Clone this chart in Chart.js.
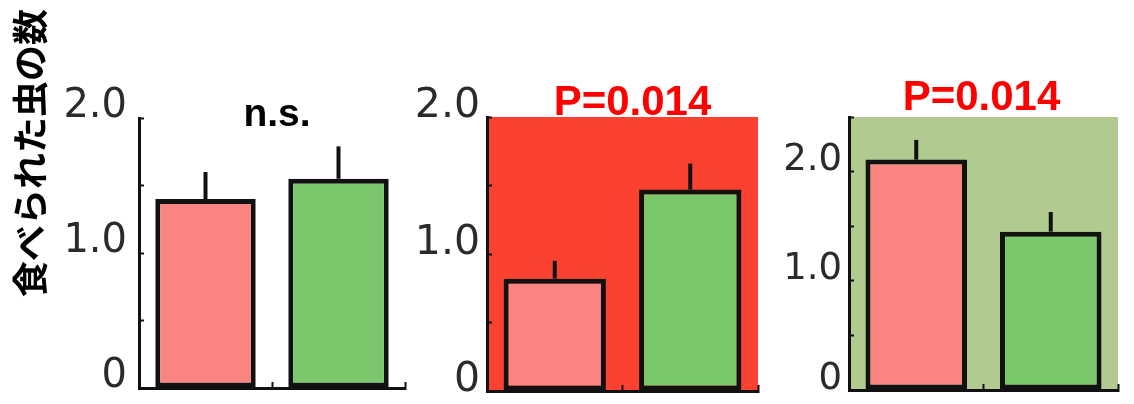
<!DOCTYPE html>
<html lang="ja">
<head>
<meta charset="UTF-8">
<title>食べられた虫の数</title>
<script src="https://cdn.jsdelivr.net/npm/chart.js@4.4.1/dist/chart.umd.min.js"></script>
<style>
  body { margin: 0; background: #fff; width: 1134px; height: 404px; position: relative; overflow: hidden; }
  canvas { position: absolute; top: 0; }
</style>
</head>
<body>
<canvas id="c1" width="410" height="404" style="left:0"></canvas>
<canvas id="c2" width="355" height="404" style="left:410px"></canvas>
<canvas id="c3" width="369" height="404" style="left:765px"></canvas>
<script>
// data
const categories = ['赤', '緑'];
const meansA = [1.40, 1.55];
const errorsA = [0.20, 0.24];
const meansB = [0.82, 1.47];
const errorsB = [0.13, 0.19];
const meansC = [2.11, 1.45];
const errorsC = [0.18, 0.18];
const tickLabels = { 0: '0', 1: '1.0', 2: '2.0' };
const notes = ['n.s.', 'P=0.014', 'P=0.014'];
const yTitle = '食べられた虫の数';

const barColors = ['#fa8480', '#7bc76b'];
const ink = '#111';

// fill the plot area (panel 2 and 3 have a coloured background)
const areaFill = {
  id: 'areaFill',
  beforeDraw(chart, args, opts) {
    if (!opts.color) return;
    const { ctx, chartArea: a } = chart;
    ctx.save();
    ctx.fillStyle = opts.color;
    ctx.fillRect(a.left, a.top, a.right - a.left, a.bottom - a.top);
    ctx.restore();
  }
};

// one-sided error bars, from the bar top upward
const errorBars = {
  id: 'errorBars',
  afterDatasetsDraw(chart, args, opts) {
    const { ctx } = chart;
    const y = chart.scales.y;
    const values = chart.data.datasets[0].data;
    ctx.save();
    ctx.strokeStyle = ink;
    ctx.lineWidth = 4;
    chart.getDatasetMeta(0).data.forEach((bar, i) => {
      ctx.beginPath();
      ctx.moveTo(bar.x, y.getPixelForValue(values[i]));
      ctx.lineTo(bar.x, y.getPixelForValue(values[i] + opts.errors[i]));
      ctx.stroke();
    });
    ctx.restore();
  }
};

// significance text over each panel
const note = {
  id: 'note',
  afterDraw(chart, args, opts) {
    const { ctx, chartArea: a } = chart;
    ctx.save();
    ctx.font = 'bold ' + opts.size + 'px "Liberation Sans", Arial, sans-serif';
    ctx.fillStyle = opts.color;
    ctx.textAlign = 'center';
    ctx.textBaseline = 'alphabetic';
    ctx.fillText(opts.text, (a.left + a.right) / 2 + opts.dx, a.top + opts.dy);
    ctx.restore();
  }
};

// y title, only on the first panel
const sideTitle = {
  id: 'sideTitle',
  afterDraw(chart, args, opts) {
    if (!opts.text) return;
    const { ctx } = chart;
    ctx.save();
    ctx.translate(opts.x, opts.y);
    ctx.rotate(-Math.PI / 2);
    ctx.font = 'bold 36px "Noto Sans CJK JP", sans-serif';
    ctx.fillStyle = '#000';
    ctx.textAlign = 'center';
    ctx.textBaseline = 'middle';
    ctx.fillText(opts.text, 0, 0);
    ctx.restore();
  }
};

function makePanel(id, p) {
  return new Chart(document.getElementById(id), {
    type: 'bar',
    data: {
      labels: categories,
      datasets: [{
        data: p.means,
        backgroundColor: barColors,
        borderColor: ink,
        borderWidth: 5,
        borderSkipped: false,
        categoryPercentage: 1,
        barPercentage: 0.755
      }]
    },
    options: {
      responsive: false,
      animation: false,
      layout: { padding: { top: p.top, right: p.right, bottom: p.bottom, left: 0 } },
      scales: {
        x: {
          ticks: { display: false },
          grid: { drawOnChartArea: false, offset: true, tickLength: -6, color: ink, tickWidth: 2 },
          border: { color: ink, width: 3 },
          afterFit: s => { s.height = 0; s.paddingLeft = 0; s.paddingRight = 0; }
        },
        y: {
          min: 0,
          max: p.max,
          ticks: {
            stepSize: 0.5,
            autoSkip: false,
            callback: v => tickLabels[v] ?? '',
            color: '#2b2b2b',
            font: { family: '"DejaVu Sans", sans-serif', size: p.fontSize },
            padding: p.labelPad,
            labelOffset: -11
          },
          grid: { drawOnChartArea: false, tickLength: -5, color: ink, tickWidth: 2 },
          border: { color: ink, width: 3 },
          afterFit: s => { s.width = p.axisWidth; s.paddingTop = 0; s.paddingBottom = 0; }
        }
      },
      plugins: {
        legend: { display: false },
        tooltip: { enabled: false },
        areaFill: { color: p.bg },
        errorBars: { errors: p.errors },
        note: p.note,
        sideTitle: p.title || {}
      }
    },
    plugins: [areaFill, errorBars, note, sideTitle]
  });
}

makePanel('c1', {
  means: meansA, errors: errorsA, max: 2.0,
  top: 118, right: 5, bottom: 16, axisWidth: 139, labelPad: 17, fontSize: 40,
  bg: null,
  note: { text: notes[0], color: '#000', size: 39, dx: 5, dy: 8 },
  title: { text: yTitle, x: 30, y: 153 }
});

makePanel('c2', {
  means: meansB, errors: errorsB, max: 2.0,
  top: 117, right: 7, bottom: 13, axisWidth: 77, labelPad: 12, fontSize: 41,
  bg: '#fb4230',
  note: { text: notes[1], color: '#ff0000', size: 42, dx: 10, dy: -2 }
});

makePanel('c3', {
  means: meansC, errors: errorsC, max: 2.5,
  top: 117, right: 16, bottom: 14, axisWidth: 84, labelPad: 12, fontSize: 37,
  bg: '#b0ca90',
  note: { text: notes[2], color: '#ff0000', size: 42, dx: -2, dy: -7 }
});
</script>
</body>
</html>
